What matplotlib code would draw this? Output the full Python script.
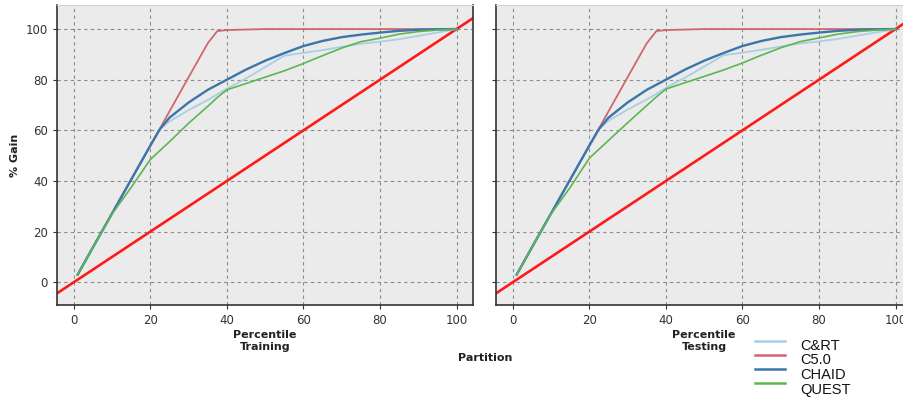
import matplotlib
matplotlib.use("Agg")
import matplotlib.pyplot as plt
from matplotlib.lines import Line2D

#=== DATA ===#

pct = [1, 5, 10, 15, 20, 22.5, 25, 30, 35, 37.5, 40, 45, 50, 55, 60, 65, 70, 75, 80, 85, 90, 95, 100]

# training partition
train_cart  = [3, 13.8, 27.2, 40.6, 54, 60.5, 63.5, 68, 72, 74.2, 76.5, 80.5, 85, 89.5, 90.6, 91.7, 93, 94.2, 95, 96, 97.3, 98.6, 100]
train_c50   = [3, 13.8, 27.2, 40.6, 54, 60.7, 67.5, 81, 94.4, 99.2, 99.6, 99.8, 100, 100, 100, 100, 100, 100, 100, 100, 100, 100, 100]
train_chaid = [3, 13.8, 27.2, 40.6, 54, 60.5, 65, 71, 76, 78, 80, 84, 87.5, 90.5, 93.3, 95.3, 96.8, 97.8, 98.6, 99.3, 99.7, 99.9, 100]
train_quest = [3, 13.8, 27, 37.5, 48.5, 52, 55.5, 62.8, 69.5, 73, 76, 78.5, 81, 83.5, 86.4, 89.5, 92.5, 95, 96.4, 98, 99, 99.6, 100]

# testing partition
test_cart  = [3, 13.8, 27.2, 40.6, 54, 60.5, 63.8, 68.2, 72.2, 74.4, 76.8, 80.8, 85.2, 89.6, 90.7, 91.8, 93.1, 94.3, 95.1, 96.1, 97.4, 98.7, 100]
test_c50   = [3, 13.8, 27.2, 40.6, 54, 60.7, 67.5, 81, 94.4, 99.2, 99.6, 99.8, 100, 100, 100, 100, 100, 100, 100, 100, 100, 100, 100]
test_chaid = [3, 13.8, 27.2, 40.6, 54, 60.5, 65, 71, 76, 78, 80, 84, 87.5, 90.5, 93.3, 95.3, 96.8, 97.8, 98.6, 99.3, 99.7, 99.9, 100]
test_quest = [3, 13.8, 27, 37.5, 49, 52.5, 56, 63, 69.8, 73.2, 76.3, 78.8, 81.3, 83.8, 86.6, 89.7, 92.6, 95, 96.5, 98, 99, 99.6, 100]

# baseline (random model) y = x
base_x = [-5, 110]
base_y = [-5, 110]

series_names = ['C&RT', 'C5.0', 'CHAID', 'QUEST']
series_colors = ['#a9cfe4', '#d0676c', '#3a76ab', '#5cb653']
series_widths = [1.3, 1.3, 1.7, 1.2]
ticks = [0, 20, 40, 60, 80, 100]

#=== FIGURE ===#

W, H = 904, 399
fig = plt.figure(figsize=(W / 100, H / 100), dpi=100)

def px_axes(left, top, right, bottom):
    return fig.add_axes([left / W, 1 - bottom / H, (right - left) / W, (bottom - top) / H])

ax1 = px_axes(57, 5, 473, 305)
ax2 = px_axes(496, 5, 912, 305)

panels = [
    (ax1, [train_cart, train_c50, train_chaid, train_quest], 'Percentile\nTraining'),
    (ax2, [test_cart, test_c50, test_chaid, test_quest], 'Percentile\nTesting'),
]

for ax, series, xlab in panels:
    ax.set_facecolor('#ebebeb')
    ax.plot(base_x, base_y, color='#ff1a1a', lw=1.9, zorder=2)
    for vals, c, lw in zip(series, series_colors, series_widths):
        ax.plot(pct, vals, color=c, lw=lw, zorder=3)
    ax.set_xlim(-4.4, 104.3)
    ax.set_ylim(-9, 109.5)
    ax.set_xticks(ticks)
    ax.set_yticks(ticks)
    ax.grid(True, color='#8c8c8c', ls=(0, (3, 3)), lw=0.8)
    ax.set_axisbelow(True)
    ax.tick_params(labelsize=8.5, labelcolor='#333333', colors='#333333', length=3, width=0.8)
    for s in ['left', 'bottom', 'right']:
        ax.spines[s].set_color('#333333')
        ax.spines[s].set_linewidth(1.2)
    ax.spines['top'].set_color('#d0d0d0')
    ax.set_xlabel(xlab, fontsize=8, fontweight='bold', color='#222222', labelpad=2, linespacing=1.3)

ax1.set_ylabel('% Gain', fontsize=8, fontweight='bold', color='#222222', labelpad=4)
ax2.tick_params(labelleft=False)

fig.text(485 / W, 1 - 358 / H, 'Partition', fontsize=8, fontweight='bold', color='#222222',
         ha='center', va='center')

# legend: short line sample sitting a little above each label
leg_font = ['Liberation Sans', 'DejaVu Sans']
for i, (name, c) in enumerate(zip(series_names, series_colors)):
    y_line = 1 - (341 + 14 * i) / H
    y_text = 1 - (345.5 + 14.8 * i) / H
    fig.add_artist(Line2D([755 / W, 785 / W], [y_line, y_line], color=c, lw=1.8,
                          transform=fig.transFigure))
    fig.text(800 / W, y_text, name, fontsize=10.5, family=leg_font, color='#111111',
             ha='left', va='center')

fig.savefig('out.png', dpi=100)
